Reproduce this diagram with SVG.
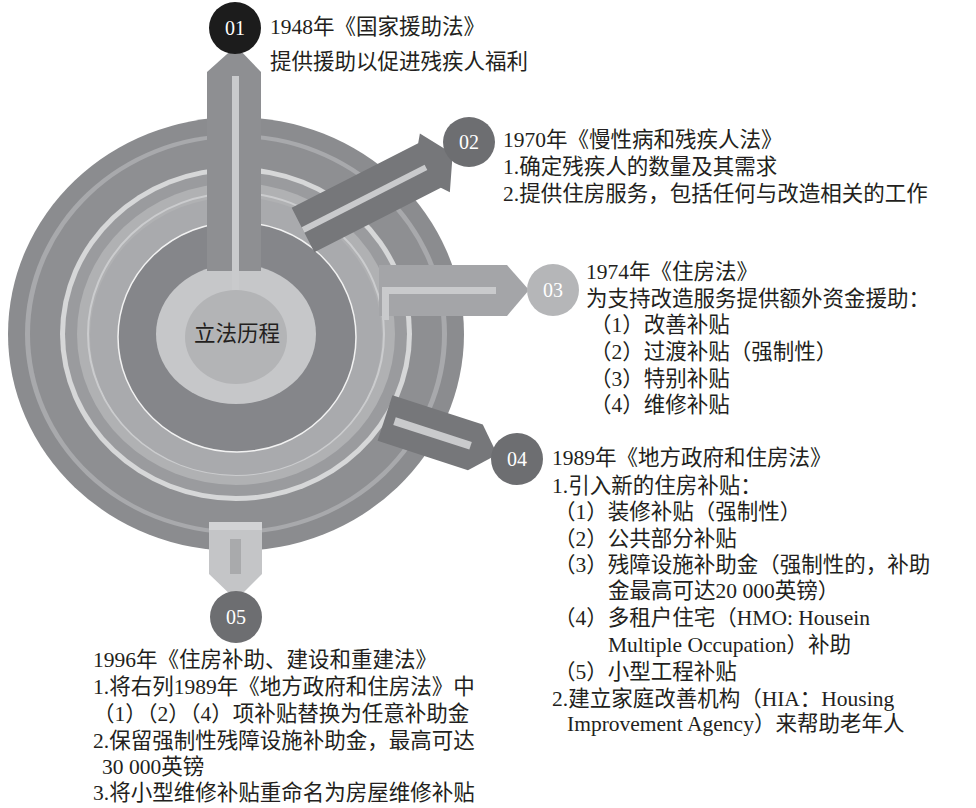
<svg xmlns="http://www.w3.org/2000/svg" width="976" height="808" viewBox="0 0 976 808">
<style>
text{font-family:"Liberation Serif","Noto Sans CJK SC",serif;font-size:21.5px;fill:#231f20}
.n{font-size:20px;fill:#fff;text-anchor:middle}
.st{fill:#c9cacc}
</style>
<rect width="976" height="808" fill="#fff"/>
<g id="rings">
<ellipse cx="236" cy="334" rx="228" ry="217" fill="#8b8c8f"/>
<ellipse cx="236" cy="334" rx="211" ry="200" fill="#a8a9ac"/>
<ellipse cx="236" cy="334" rx="206" ry="196" fill="#8e8f92"/>
<ellipse cx="236" cy="334" rx="176" ry="167" fill="#d6d7d8"/>
<ellipse cx="236" cy="334" rx="171" ry="162" fill="#9a9b9e"/>
<ellipse cx="236" cy="334" rx="159" ry="151" fill="#b0b1b3"/>
<ellipse cx="236" cy="334" rx="148" ry="141" fill="none" stroke="#cbccce" stroke-width="2"/>
<ellipse cx="236" cy="336" rx="146" ry="139" fill="#a9aaad"/>
<ellipse cx="237" cy="337" rx="119" ry="115" fill="#85868a" stroke="#f2f2f2" stroke-width="1.5"/>
<ellipse cx="236" cy="334" rx="80" ry="70" fill="#c6c7c9"/>
<ellipse cx="236" cy="337" rx="51" ry="47" fill="#b3b4b6"/>
</g>
<g id="connectors">
<g id="arrow01"><polygon points="207,271 207,72 236,46 261,72 261,271" fill="#8e8f92"/><rect x="232" y="76" width="7" height="214" class="st"/></g>
<g id="arrow02" transform="translate(303,230) rotate(-27)"><polygon points="0,-25 142,-25 148,-33 168,0 148,33 142,25 0,25" fill="#76777a"/><rect x="0" y="-3" width="138" height="6" class="st"/></g>
<g id="arrow03"><polygon points="379,265 507,265 529,290 507,316 379,316" fill="#a4a5a8"/><path d="M382,287 H496 V294 H389 V320 H382 Z" class="st"/></g>
<g id="arrow04" transform="translate(385,418) rotate(18)"><polygon points="0,-24 95,-24 118,0 95,24 0,24" fill="#76777a"/><rect x="10" y="-4" width="80" height="8" class="st"/></g>
<g id="arrow05"><polygon points="209,522 262,522 262,574 236,600 209,574" fill="#c4c5c7"/><rect x="209" y="522" width="53" height="8" fill="#d2d3d5"/><rect x="230" y="539" width="11" height="35" fill="#a9aaac"/></g>
</g>
<g id="center"><text x="237" y="341" text-anchor="middle">立法历程</text></g>
<g id="node01"><ellipse cx="235" cy="28" rx="26" ry="26" fill="#1c1c1c"/><text class="n" x="235" y="35">01</text>
<text x="270" y="34">1948年《国家援助法》</text><text x="270" y="69">提供援助以促进残疾人福利</text></g>
<g id="node02"><ellipse cx="469" cy="142" rx="26" ry="25" fill="#6d6e71"/><text class="n" x="469" y="149">02</text>
<text x="503" y="147">1970年《慢性病和残疾人法》</text><text x="503" y="174">1.确定残疾人的数量及其需求</text><text x="503" y="201">2.提供住房服务，包括任何与改造相关的工作</text></g>
<g id="node03"><ellipse cx="553" cy="290" rx="26" ry="26" fill="#b5b6b8"/><text class="n" x="553" y="297">03</text>
<text x="586" y="279">1974年《住房法》</text><text x="586" y="306">为支持改造服务提供额外资金援助：</text>
<text x="590" y="332">（1）改善补贴</text><text x="590" y="359">（2）过渡补贴（强制性）</text><text x="590" y="386">（3）特别补贴</text><text x="590" y="412">（4）维修补贴</text></g>
<g id="node04"><ellipse cx="517" cy="459" rx="26" ry="26" fill="#6d6e71"/><text class="n" x="517" y="466">04</text>
<text x="552" y="465">1989年《地方政府和住房法》</text><text x="552" y="493">1.引入新的住房补贴：</text>
<text x="554" y="519">（1）装修补贴（强制性）</text><text x="554" y="546">（2）公共部分补贴</text><text x="554" y="572">（3）残障设施补助金（强制性的，补助</text><text x="608" y="598">金最高可达20 000英镑）</text>
<text x="554" y="625">（4）多租户住宅（HMO: Housein</text><text x="608" y="652">Multiple Occupation）补助</text><text x="554" y="679">（5）小型工程补贴</text>
<text x="552" y="706">2.建立家庭改善机构（HIA：Housing</text><text x="567" y="731">Improvement Agency）来帮助老年人</text></g>
<g id="node05"><ellipse cx="236" cy="617" rx="26" ry="26" fill="#6d6e71"/><text class="n" x="236" y="624">05</text>
<text x="93" y="667">1996年《住房补助、建设和重建法》</text><text x="93" y="694">1.将右列1989年《地方政府和住房法》中</text><text x="93" y="721">（1）（2）（4）项补贴替换为任意补助金</text>
<text x="93" y="748">2.保留强制性残障设施补助金，最高可达</text><text x="102" y="774">30 000英镑</text><text x="93" y="800">3.将小型维修补贴重命名为房屋维修补贴</text></g>
</svg>
